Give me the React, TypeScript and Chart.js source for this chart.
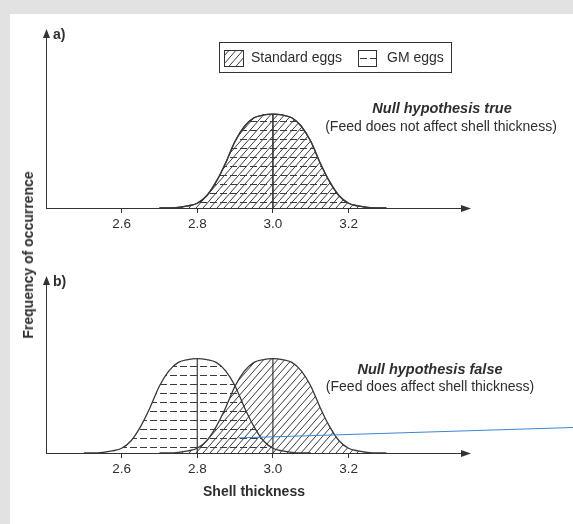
import React, { useEffect, useRef } from "react";
import { Chart, registerables } from "chart.js";

Chart.register(...registerables);

// ---------------- data ----------------
const tickValues = [2.6, 2.8, 3.0, 3.2];

// Standard eggs (both panels): shell thickness and relative frequency
const standardThickness = [
  2.7, 2.725, 2.75, 2.775, 2.8, 2.825, 2.85, 2.875, 2.9, 2.925, 2.95, 2.975, 3.0,
  3.025, 3.05, 3.075, 3.1, 3.125, 3.15, 3.175, 3.2, 3.225, 3.25, 3.275, 3.3,
];
const standardFrequency = [
  0, 0, 0.006, 0.022, 0.05, 0.13, 0.28, 0.48, 0.71, 0.87, 0.96, 0.99, 1.0,
  0.99, 0.96, 0.87, 0.71, 0.48, 0.28, 0.13, 0.05, 0.022, 0.006, 0, 0,
];

// GM eggs, panel a (null hypothesis true)
const gmTrueThickness = [
  2.7, 2.725, 2.75, 2.775, 2.8, 2.825, 2.85, 2.875, 2.9, 2.925, 2.95, 2.975, 3.0,
  3.025, 3.05, 3.075, 3.1, 3.125, 3.15, 3.175, 3.2, 3.225, 3.25, 3.275, 3.3,
];
const gmTrueFrequency = [
  0, 0, 0.006, 0.022, 0.05, 0.13, 0.28, 0.48, 0.71, 0.87, 0.96, 0.99, 1.0,
  0.99, 0.96, 0.87, 0.71, 0.48, 0.28, 0.13, 0.05, 0.022, 0.006, 0, 0,
];

// GM eggs, panel b (null hypothesis false)
const gmFalseThickness = [
  2.5, 2.525, 2.55, 2.575, 2.6, 2.625, 2.65, 2.675, 2.7, 2.725, 2.75, 2.775, 2.8,
  2.825, 2.85, 2.875, 2.9, 2.925, 2.95, 2.975, 3.0, 3.025, 3.05, 3.075, 3.1,
];
const gmFalseFrequency = [
  0, 0, 0.006, 0.022, 0.05, 0.13, 0.28, 0.48, 0.71, 0.87, 0.96, 0.99, 1.0,
  0.99, 0.96, 0.87, 0.71, 0.48, 0.28, 0.13, 0.05, 0.022, 0.006, 0, 0,
];

// mean markers
const standardMean = [3.0, 3.0];
const gmTrueMean = [3.0, 3.0];
const gmFalseMean = [2.8, 2.8];
const meanLineFrequency = [0, 1.0];

// stray blue line seen in panel b
const blueLineThickness = [2.909, 3.794];
const blueLineFrequency = [0.16, 0.27];

// ---------------- styles ----------------
const FONT = '"Liberation Sans", Arial, Helvetica, sans-serif';
const TEXT = "#2e2e2e";
const AXIS = "#333333";
const STROKE = "#383838";
const HATCH = "#3a3a3a";
const FRAME = "#e2e2e2";
const BLUE = "#3d86d2";

const W = 573;
const HA = 245;
const HB = 279;

function pts(xs: number[], ys: number[]) {
  return xs.map((x, i) => ({ x, y: ys[i] }));
}

function makePatterns(ctx: CanvasRenderingContext2D) {
  const d = document.createElement("canvas");
  d.width = 7;
  d.height = 8;
  const g = d.getContext("2d")!;
  g.strokeStyle = HATCH;
  g.lineWidth = 1;
  for (const k of [-1, 0, 1]) {
    g.beginPath();
    g.moveTo(k * 7, 8);
    g.lineTo(k * 7 + 7, 0);
    g.stroke();
  }
  const s = document.createElement("canvas");
  s.width = 10;
  s.height = 9;
  const h = s.getContext("2d")!;
  h.fillStyle = HATCH;
  h.fillRect(0, 4, 7, 1);
  return {
    diag: ctx.createPattern(d, "repeat")!,
    dash: ctx.createPattern(s, "repeat")!,
  };
}

function curve(data: any[], bg: any, order: number) {
  return {
    data,
    borderColor: STROKE,
    borderWidth: 1.3,
    backgroundColor: bg,
    fill: "origin",
    pointRadius: 0,
    cubicInterpolationMode: "monotone",
    order,
  };
}

function meanLine(data: any[], order: number) {
  return {
    data,
    borderColor: STROKE,
    borderWidth: 1.2,
    fill: false,
    pointRadius: 0,
    order,
  };
}

function buildConfig(panel: "a" | "b", pat: { diag: CanvasPattern; dash: CanvasPattern }) {
  const isA = panel === "a";
  const datasets: any[] = isA
    ? [
        { label: "Standard eggs mean", ...meanLine(pts(standardMean, meanLineFrequency), 1) },
        { label: "Standard eggs", ...curve(pts(standardThickness, standardFrequency), pat.diag, 3) },
        { label: "GM eggs", ...curve(pts(gmTrueThickness, gmTrueFrequency), pat.dash, 2) },
        { label: "GM eggs mean", ...meanLine(pts(gmTrueMean, meanLineFrequency), 1) },
      ]
    : [
        {
          label: "line",
          data: pts(blueLineThickness, blueLineFrequency),
          borderColor: BLUE,
          borderWidth: 1,
          pointRadius: 0,
          fill: false,
          clip: false,
          order: 0,
        },
        { label: "Standard eggs mean", ...meanLine(pts(standardMean, meanLineFrequency), 1) },
        { label: "GM eggs mean", ...meanLine(pts(gmFalseMean, meanLineFrequency), 1) },
        { label: "Standard eggs", ...curve(pts(standardThickness, standardFrequency), pat.diag, 2) },
        { label: "GM eggs", ...curve(pts(gmFalseThickness, gmFalseFrequency), pat.dash, 3) },
      ];

  const decor = {
    id: "decor" + panel,
    afterDraw(chart: any) {
      const { ctx, chartArea } = chart;
      const { left, right, top, bottom } = chartArea;
      const ax = Math.round(left) + 0.5;
      const ay = Math.round(bottom) + 0.5;
      ctx.save();
      ctx.fillStyle = AXIS;
      // x-axis arrow
      ctx.beginPath();
      ctx.moveTo(right - 1, ay - 3.5);
      ctx.lineTo(right + 9, ay);
      ctx.lineTo(right - 1, ay + 3.5);
      ctx.closePath();
      ctx.fill();
      // y-axis arrow
      ctx.beginPath();
      ctx.moveTo(ax - 3.5, top + 1);
      ctx.lineTo(ax, top - 8);
      ctx.lineTo(ax + 3.5, top + 1);
      ctx.closePath();
      ctx.fill();

      ctx.fillStyle = TEXT;
      ctx.textBaseline = "middle";
      ctx.textAlign = "left";
      ctx.font = `bold 14px ${FONT}`;
      ctx.fillText(isA ? "a)" : "b)", 53, isA ? 35 : 37.5);

      ctx.textAlign = "center";
      ctx.font = `italic bold 14.5px ${FONT}`;
      ctx.fillText(
        isA ? "Null hypothesis true" : "Null hypothesis false",
        isA ? 442 : 430,
        isA ? 109 : 125
      );
      ctx.font = `14px ${FONT}`;
      ctx.fillText(
        isA ? "(Feed does not affect shell thickness)" : "(Feed does affect shell thickness)",
        isA ? 441 : 430,
        isA ? 127.5 : 142.5
      );

      if (isA) {
        // legend box
        ctx.strokeStyle = AXIS;
        ctx.lineWidth = 1;
        ctx.strokeRect(219.5, 42.5, 232, 30);
        ctx.fillStyle = pat.diag;
        ctx.fillRect(224, 50, 20, 17);
        ctx.strokeRect(224.5, 50.5, 19, 16);
        ctx.fillStyle = pat.dash;
        ctx.fillRect(358, 50, 19, 17);
        ctx.strokeRect(358.5, 50.5, 18, 16);
        ctx.fillStyle = TEXT;
        ctx.textAlign = "left";
        ctx.font = `14px ${FONT}`;
        ctx.fillText("Standard eggs", 251, 58.5);
        ctx.fillText("GM eggs", 387, 58.5);
      }
      ctx.restore();
    },
  };

  return {
    type: "line" as const,
    data: { datasets },
    options: {
      animation: false,
      responsive: false,
      events: [],
      layout: { padding: { left: 46, right: W - 462, top: isA ? 37 : 39, bottom: 0 } },
      plugins: { legend: { display: false }, tooltip: { enabled: false } },
      scales: {
        x: {
          type: "linear",
          min: 2.4,
          max: 3.5,
          afterBuildTicks: (s: any) => {
            s.ticks = tickValues.map((v) => ({ value: v }));
          },
          afterFit: (s: any) => {
            s.height = isA ? HA - 208 : HB - 208;
          },
          border: { display: true, color: AXIS, width: 1 },
          grid: { display: true, drawOnChartArea: false, drawTicks: true, tickLength: 5, color: AXIS },
          ticks: {
            color: TEXT,
            font: { family: FONT, size: 13.5 },
            padding: 3,
            autoSkip: false,
            maxRotation: 0,
            callback: (v: any) => Number(v).toFixed(1),
          },
          title: isA
            ? { display: false }
            : {
                display: true,
                text: "Shell thickness",
                color: TEXT,
                font: { family: FONT, size: 14, weight: "bold" },
                padding: { top: 0, bottom: 23 },
              },
        },
        y: {
          type: "linear",
          min: 0,
          max: isA ? 1.82 : 1.79,
          afterFit: (s: any) => {
            s.width = 0;
          },
          border: { display: true, color: AXIS, width: 1 },
          grid: { display: false },
          ticks: { display: false },
        },
      },
    },
    plugins: [decor],
  };
}

export default function App() {
  const refA = useRef<HTMLCanvasElement>(null);
  const refB = useRef<HTMLCanvasElement>(null);

  useEffect(() => {
    const ca = refA.current!;
    const cb = refB.current!;
    const pa = makePatterns(ca.getContext("2d")!);
    const pb = makePatterns(cb.getContext("2d")!);
    const a = new Chart(ca, buildConfig("a", pa) as any);
    const b = new Chart(cb, buildConfig("b", pb) as any);
    return () => {
      a.destroy();
      b.destroy();
    };
  }, []);

  return (
    <div
      style={{
        position: "absolute",
        left: 0,
        top: 0,
        width: W,
        height: HA + HB,
        background: "#ffffff",
        overflow: "hidden",
      }}
    >
      <div style={{ position: "absolute", left: 0, top: 0, width: W, height: 14, background: FRAME }} />
      <div style={{ position: "absolute", left: 0, top: 0, width: 10, height: HA + HB, background: FRAME }} />
      <canvas
        ref={refA}
        width={W}
        height={HA}
        style={{ position: "absolute", left: 0, top: 0, width: W, height: HA }}
      />
      <canvas
        ref={refB}
        width={W}
        height={HB}
        style={{ position: "absolute", left: 0, top: HA, width: W, height: HB }}
      />
      <div
        style={{
          position: "absolute",
          left: 28,
          top: 255,
          transform: "translate(-50%, -50%) rotate(-90deg)",
          whiteSpace: "nowrap",
          font: `bold 14px ${FONT}`,
          color: TEXT,
        }}
      >
        Frequency of occurrence
      </div>
    </div>
  );
}
